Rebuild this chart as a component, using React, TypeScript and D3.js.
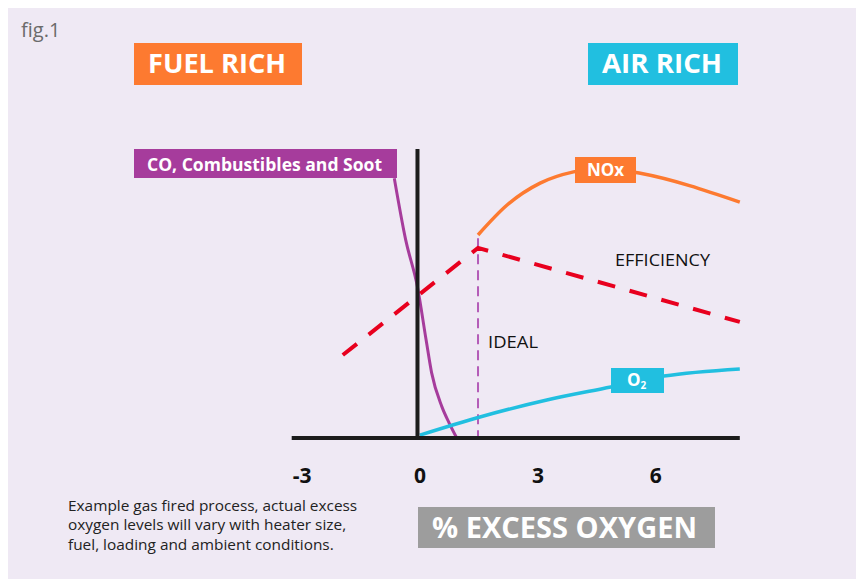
import { scaleLinear, line as d3_line, curveMonotoneX, curveLinear } from "d3";

// x axis ticks (% excess oxygen)
const xTicks = [-3, 0, 3, 6];

// efficiency (dashed red)
const effX = [-1.9, 1.54, 8.2];
const effY = [28.8, 66, 40.3];

// NOx curve
const noxX = [1.54, 2.28, 3.12, 3.97, 4.83, 5.64, 8.2];
const noxY = [70.5, 80.9, 88.5, 92.4, 93.7, 92, 81.9];

// O2 curve
const o2X = [0.06, 1.59, 3.29, 4.92, 6.27, 8.2];
const o2Y = [1, 7.3, 13.2, 17.7, 21.5, 24];

// CO, combustibles and soot
const coX = [-0.59, -0.3, 0, 0.22, 0.36, 0.62, 0.81, 1.0];
const coY = [90.2, 68.8, 52.4, 34, 22.6, 10.9, 5.1, 0];

// ideal operating point
const idealX = 1.54;
const idealTop = 69.4;

const footnote = [
  "Example gas fired process, actual excess",
  "oxygen levels will vary with heater size,",
  "fuel, loading and ambient conditions.",
];

const FONT = "'Open Sans', 'Noto Sans', sans-serif";
const ORANGE = "#fd7a30";
const CYAN = "#21bfe0";
const PURPLE = "#a63c9c";
const RED = "#e8001e";

type Pt = [number, number];
const zip = (xs: number[], ys: number[]): Pt[] => xs.map((x, i) => [x, ys[i]]);

export default function App() {
  const x = scaleLinear().domain([-3.2, 8.2]).range([291.7, 739.8]);
  const y = scaleLinear().domain([0, 100]).range([438, 150]);

  const mk = (curve: any) =>
    d3_line<Pt>()
      .x((d) => x(d[0]))
      .y((d) => y(d[1]))
      .curve(curve);

  const effPath = mk(curveLinear)(zip(effX, effY)) ?? "";
  const noxPath = mk(curveMonotoneX)(zip(noxX, noxY)) ?? "";
  const o2Path = mk(curveMonotoneX)(zip(o2X, o2Y)) ?? "";
  const coPath = mk(curveMonotoneX)(zip(coX, coY)) ?? "";

  return (
    <svg width={856} height={571} style={{ display: "block", background: "#efe9f4" }}>
      <g transform="translate(-8,-8)" fontFamily={FONT}>
        <text x={21} y={37} fontSize={20} fill="#6b6b6b">fig.1</text>

        {/* FUEL RICH / AIR RICH */}
        <rect x={134} y={43} width={168} height={42} fill={ORANGE} />
        <text x={148} y={73} fontSize={27} fontWeight={700} fill="#fff" textLength={138} lengthAdjust="spacingAndGlyphs">FUEL RICH</text>
        <rect x={588} y={43} width={150} height={42} fill={CYAN} />
        <text x={602} y={73} fontSize={27} fontWeight={700} fill="#fff" textLength={120} lengthAdjust="spacingAndGlyphs">AIR RICH</text>

        {/* ideal marker */}
        <line x1={x(idealX)} x2={x(idealX)} y1={y(idealTop)} y2={y(0)} stroke="#b45cb8" strokeWidth={2} strokeDasharray="10,6" />

        {/* curves */}
        <path d={coPath} fill="none" stroke={PURPLE} strokeWidth={3} />
        <path d={o2Path} fill="none" stroke={CYAN} strokeWidth={3.5} />
        <path d={noxPath} fill="none" stroke={ORANGE} strokeWidth={3.5} />
        <path d={effPath} fill="none" stroke={RED} strokeWidth={4} strokeDasharray="18,15" />

        {/* axes */}
        <line x1={x(-3.2)} x2={x(8.2)} y1={438} y2={438} stroke="#1c1c1c" strokeWidth={4} />
        <line x1={x(0)} x2={x(0)} y1={149} y2={440} stroke="#1c1c1c" strokeWidth={4} />
        {xTicks.map((t) => (
          <text key={t} x={x(t) + 2.5} y={483} textAnchor="middle" fontSize={21} fontWeight={700} fill="#111">{t}</text>
        ))}

        {/* series labels */}
        <rect x={134} y={149} width={263} height={29} fill={PURPLE} />
        <text x={147} y={171} fontSize={18} fontWeight={700} fill="#fff" textLength={235} lengthAdjust="spacingAndGlyphs">CO, Combustibles and Soot</text>
        <rect x={575} y={157} width={61} height={26} fill={ORANGE} />
        <text x={605.5} y={176} textAnchor="middle" fontSize={17} fontWeight={700} fill="#fff">NOx</text>
        <rect x={611} y={368} width={53} height={25} fill={CYAN} />
        <text x={627} y={386} fontSize={17} fontWeight={700} fill="#fff">O<tspan fontSize={10} dy={3}>2</tspan></text>

        <text x={615} y={266} fontSize={17} fill="#111" textLength={95} lengthAdjust="spacingAndGlyphs">EFFICIENCY</text>
        <text x={488} y={348} fontSize={16.5} fill="#111" textLength={50} lengthAdjust="spacingAndGlyphs">IDEAL</text>

        {/* x axis title */}
        <rect x={418} y={507} width={297} height={41} fill="#9d9d9d" />
        <text x={432} y={538} fontSize={28} fontWeight={700} fill="#fff" textLength={265} lengthAdjust="spacingAndGlyphs">% EXCESS OXYGEN</text>

        {/* footnote, slightly stretched like the original's typeface */}
        <g transform="translate(68,0) scale(1.1,1)">
          {footnote.map((s, i) => (
            <text key={i} x={0} y={511 + i * 19.5} fontSize={14} fill="#222">{s}</text>
          ))}
        </g>
      </g>
    </svg>
  );
}
